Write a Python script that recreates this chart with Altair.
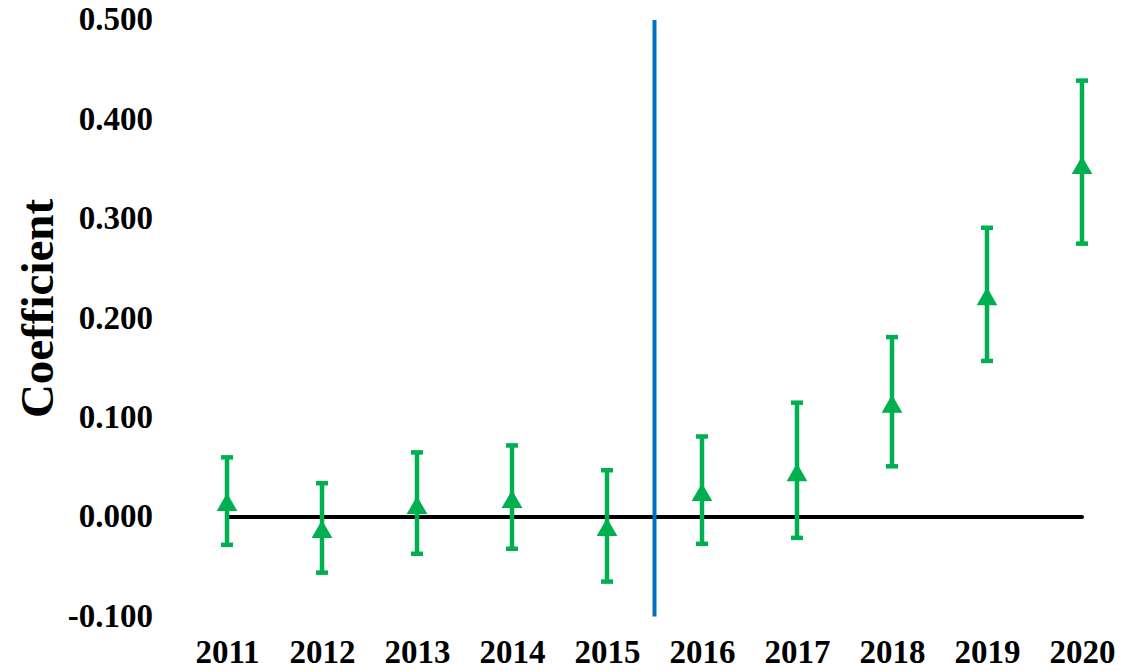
import altair as alt
import pandas as pd

# Year-by-year coefficient estimates with their confidence bounds
years = [2011, 2012, 2013, 2014, 2015, 2016, 2017, 2018, 2019, 2020]
coef = [0.015, -0.012, 0.012, 0.018, -0.010, 0.025, 0.045, 0.114, 0.222, 0.354]
upper = [0.060, 0.034, 0.065, 0.072, 0.047, 0.081, 0.115, 0.181, 0.291, 0.439]
lower = [-0.028, -0.056, -0.037, -0.032, -0.065, -0.027, -0.021, 0.051, 0.157, 0.275]
y_ticks = [-0.1, 0.0, 0.1, 0.2, 0.3, 0.4, 0.5]
policy_break = 2015.5

GREEN = "#00B050"
BLUE = "#0070C0"
FONT = "Liberation Serif"

df = pd.DataFrame({"year": years, "coef": coef, "upper": upper, "lower": lower})
zero_df = pd.DataFrame({"x": [years[0]], "x2": [years[-1]], "y": [0.0]})

x_scale = alt.Scale(domain=[2010.5, 2020.5], nice=False, zero=False)
y_scale = alt.Scale(domain=[-0.1, 0.5], nice=False)

x_axis = alt.Axis(
    values=years, format="d", title=None, grid=False, domain=False, ticks=False,
    labelFont=FONT, labelFontWeight="bold", labelFontSize=33, labelColor="black",
    labelPadding=20, labelBaseline="top",
)
y_axis = alt.Axis(
    values=y_ticks, labelExpr="replace(format(datum.value, '.3f'), '−', '-')",
    title="Coefficient", grid=False, domain=False, ticks=False,
    labelFont=FONT, labelFontWeight="bold", labelFontSize=33,
    labelColor="black", labelPadding=27, titleFont=FONT, titleFontWeight="bold",
    titleFontSize=47, titleColor="black", titleAngle=270, titleX=-141,
    titleY=288, titleAlign="center", titleBaseline="middle",
)

base = alt.Chart(df)

zero_line = alt.Chart(zero_df).mark_rule(
    color="black", strokeWidth=4, strokeCap="round"
).encode(
    x=alt.X("x:Q", scale=x_scale, axis=x_axis),
    x2="x2:Q",
    y=alt.Y("y:Q", scale=y_scale, axis=y_axis),
)

break_line = alt.Chart(zero_df).mark_rule(color=BLUE, strokeWidth=4).encode(
    x=alt.datum(policy_break, scale=x_scale),
)

stems = base.mark_rule(color=GREEN, strokeWidth=4.5).encode(
    x=alt.X("year:Q", scale=x_scale),
    y=alt.Y("lower:Q", scale=y_scale),
    y2="upper:Q",
)

cap_style = dict(color=GREEN, orient="horizontal", size=12, thickness=4.5, opacity=1)
caps_hi = base.mark_tick(**cap_style).encode(
    x=alt.X("year:Q", scale=x_scale),
    y=alt.Y("upper:Q", scale=y_scale),
)
caps_lo = base.mark_tick(**cap_style).encode(
    x=alt.X("year:Q", scale=x_scale),
    y=alt.Y("lower:Q", scale=y_scale),
)

# Centered upward triangle marker
triangle = "M0,-0.866L1,0.866L-1,0.866Z"
points = base.mark_point(
    shape=triangle, filled=True, color=GREEN, opacity=1, size=430, strokeWidth=0
).encode(
    x=alt.X("year:Q", scale=x_scale),
    y=alt.Y("coef:Q", scale=y_scale),
)

chart = alt.layer(
    zero_line, break_line, stems, caps_hi, caps_lo, points
).properties(
    width=950,
    height=596.4,
    autosize=alt.AutoSizeParams(type="none"),
    padding={"left": 179.5, "top": 20, "right": 15, "bottom": 54},
    background="white",
).configure_view(stroke=None)

chart.save("out.html", embed_options={"renderer": "svg", "actions": False})
